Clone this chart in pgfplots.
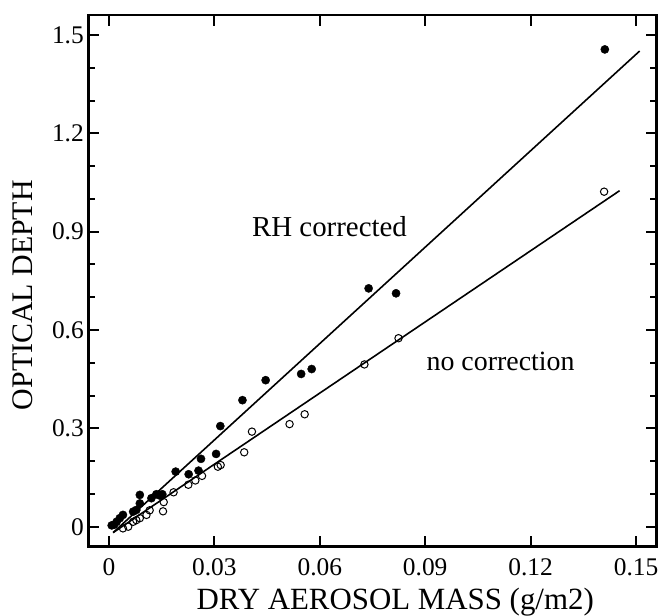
\documentclass[border=0pt]{standalone}
\usepackage{fontspec}
\setmainfont{Liberation Serif}
\usepackage{graphicx}
\usepackage{pgfplots}
\pgfplotsset{compat=1.18}
\pgfplotstableread{
x y
0.0008 0.004
0.0015 0.006
0.0022 0.015
0.0031 0.026
0.0040 0.036
0.0069 0.046
0.0078 0.051
0.0088 0.071
0.0088 0.097
0.0121 0.087
0.0135 0.099
0.0145 0.095
0.0152 0.099
0.0190 0.168
0.0227 0.160
0.0255 0.171
0.0262 0.207
0.0305 0.222
0.0317 0.307
0.0380 0.386
0.0446 0.447
0.0547 0.466
0.0577 0.481
0.0739 0.727
0.0817 0.712
0.1411 1.456
}\rhdata
\pgfplotstableread{
x y
0.0040 -0.005
0.0055 0.000
0.0069 0.015
0.0078 0.020
0.0088 0.026
0.0107 0.036
0.0116 0.050
0.0154 0.047
0.0156 0.075
0.0184 0.105
0.0226 0.128
0.0246 0.141
0.0265 0.155
0.0310 0.183
0.0318 0.188
0.0385 0.227
0.0407 0.290
0.0514 0.313
0.0557 0.343
0.0727 0.495
0.0824 0.575
0.1409 1.022
}\nodata
\begin{document}
\begin{tikzpicture}
\begin{axis}[
  scale only axis, width=568.4bp, height=531.7bp,
  xmin=-0.00586, xmax=0.15586, ymin=-0.061, ymax=1.561,
  scaled x ticks=false, scaled y ticks=false,
  xtick={0,0.03,0.06,0.09,0.12,0.15},
  xticklabels={0,0.03,0.06,0.09,0.12,0.15},
  ytick={0,0.3,0.6,0.9,1.2,1.5},
  yticklabels={0,0.3,0.6,0.9,1.2,1.5},
  minor ytick={0.1,0.2,0.4,0.5,0.7,0.8,1.0,1.1,1.3,1.4},
  xtick pos=both, ytick pos=both,
  tick align=inside,
  major tick length=11bp, minor tick length=7bp,
  every tick/.style={line width=2bp, black},
  axis line style={line width=2.5bp},
  tick label style={font=\fontsize{25.5}{29}\selectfont},
  /pgf/number format/assume math mode=true,
  xticklabel style={yshift=-8bp},
  yticklabel style={xshift=-1bp},
  xlabel={DRY AEROSOL MASS (g/m2)},
  xlabel style={at={(axis description cs:0.54,0)}, anchor=base, yshift=-63bp, font=\fontsize{31}{34}\selectfont},
  ylabel={OPTICAL DEPTH},
  ylabel style={at={(axis description cs:-0.0973,0.473)}, anchor=base, font=\fontsize{30}{33}\selectfont},
  clip=false,
]
\addplot[only marks, mark=*, mark size=4.1bp, black] table[x=x,y=y]{\rhdata};
\addplot[only marks, mark=o, mark size=3.7bp, black, mark options={line width=1bp, fill=white}] table[x=x,y=y]{\nodata};
\addplot[black, line width=1.6bp] coordinates {(0.0012,-0.018) (0.151,1.451)};
\addplot[black, line width=1.6bp] coordinates {(0.0012,-0.018) (0.1453,1.025)};
\node[anchor=base east, font=\fontsize{29}{32}\selectfont] at (axis cs:0.0858,0.885) {RH corrected};
\node[anchor=base west, font=\fontsize{28}{31}\selectfont] at (axis cs:0.0894,0.478) {no correction};
\end{axis}
\pgfresetboundingbox
\path ([shift={(-88.3bp,-69.3bp)}]current axis.south west) rectangle ([shift={(2.3bp,15bp)}]current axis.north east);
\end{tikzpicture}
\end{document}
